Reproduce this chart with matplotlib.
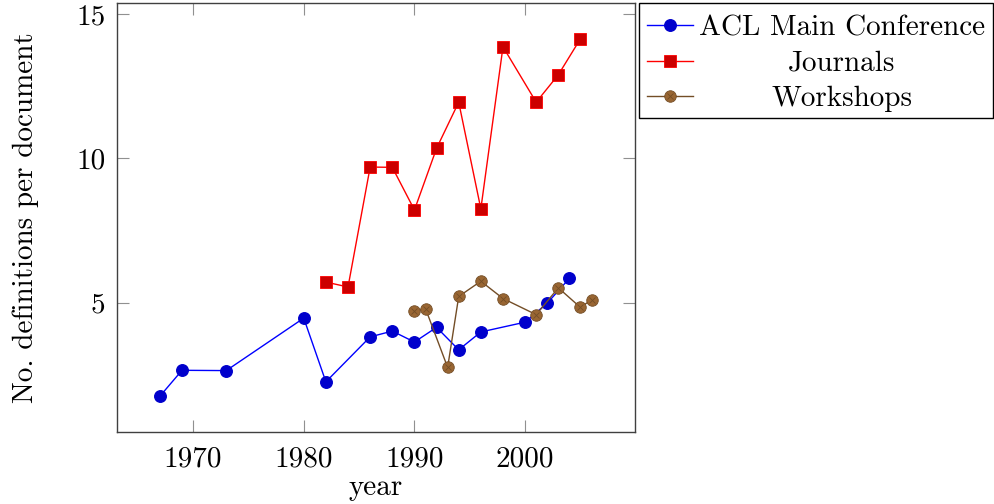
import matplotlib
matplotlib.use('Agg')
import matplotlib.pyplot as plt
from matplotlib.lines import Line2D
from matplotlib.patches import Rectangle

plt.rcParams['font.family'] = ['cmr10', 'DejaVu Serif']
plt.rcParams['axes.formatter.use_mathtext'] = True
plt.rcParams['mathtext.fontset'] = 'cm'

# ---- data ----
acl_years = [1967, 1969, 1973, 1980, 1982, 1986, 1988, 1990, 1992, 1994, 1996, 2000, 2002, 2004]
acl_values = [1.75, 2.65, 2.64, 4.46, 2.25, 3.81, 4.01, 3.63, 4.14, 3.36, 3.98, 4.32, 4.98, 5.84]
journal_years = [1982, 1984, 1986, 1988, 1990, 1992, 1994, 1996, 1998, 2001, 2003, 2005]
journal_values = [5.71, 5.54, 9.70, 9.69, 8.21, 10.35, 11.95, 8.25, 13.87, 11.95, 12.90, 14.15]
workshop_years = [1990, 1991, 1993, 1994, 1996, 1998, 2001, 2003, 2005, 2006]
workshop_values = [4.69, 4.79, 2.75, 5.21, 5.74, 5.14, 4.58, 5.51, 4.83, 5.10]
series_labels = ['ACL Main Conference', 'Journals', 'Workshops']
x_ticks = [1970, 1980, 1990, 2000]
y_ticks = [5, 10, 15]
x_label = 'year'
y_label = 'No. definitions per document'

# ---- styles ----
blue_line, blue_fill = '#0000ff', '#0000cc'
red_line, red_fill = '#ff0000', '#cc0000'
brown_line, brown_fill = '#734d26', '#996633'
FS = 21

W, H = 994, 504
fig = plt.figure(figsize=(W / 100, H / 100), dpi=100)
ax = fig.add_axes([116.7 / W, 1 - 432 / H, (634.7 - 116.7) / W, (432 - 3) / H])

ax.plot(acl_years, acl_values, color=blue_line, lw=1.0, marker='o', ms=8.3,
        mfc=blue_fill, mec=blue_fill, zorder=3)
ax.plot(journal_years, journal_values, color=red_line, lw=1.0, marker='s', ms=8.3,
        mfc=red_fill, mec=red_line, mew=0.6, zorder=3)
ax.plot(workshop_years, workshop_values, color=brown_line, lw=1.0, marker='o', ms=8.3,
        mfc=brown_fill, mec=brown_line, mew=0.6, zorder=3)
ax.plot(workshop_years, workshop_values, ls='none', marker='x', ms=5,
        mec=brown_line, mew=0.6, zorder=4)

ax.margins(x=0.1, y=0.1)
ax.set_xticks(x_ticks)
ax.set_yticks(y_ticks)
ax.set_xticklabels([str(t) for t in x_ticks])
ax.set_yticklabels([str(t) for t in y_ticks])
ax.tick_params(direction='in', length=8.5, width=0.8, color='#909090',
               top=True, right=True, labelsize=FS)
ax.tick_params(axis='x', pad=10)
ax.tick_params(axis='y', pad=8)
for s in ax.spines.values():
    s.set_color('#404040')
    s.set_linewidth(1.0)

ax.set_xlabel(x_label, fontsize=FS, labelpad=2)
ax.set_ylabel(y_label, fontsize=FS, labelpad=27)

# ---- legend (centered text, drawn manually) ----
def fx(px):
    return px / W

def fy(py):
    return 1 - py / H

fig.add_artist(Rectangle((fx(639.3), fy(118)), fx(993) - fx(639.3), (118 - 2.7) / H,
                         transform=fig.transFigure, facecolor='white',
                         edgecolor='black', lw=1.0, zorder=5))
rows = [25, 60.7, 95.7]
styles = [
    dict(color=blue_line, marker='o', mfc=blue_fill, mec=blue_fill),
    dict(color=red_line, marker='s', mfc=red_fill, mec=red_line, mew=0.6),
    dict(color=brown_line, marker='o', mfc=brown_fill, mec=brown_line, mew=0.6),
]
for ry, st, lab in zip(rows, styles, series_labels):
    fig.add_artist(Line2D([fx(647), fx(670), fx(693)], [fy(ry)] * 3, lw=1.0, ms=8.3,
                          markevery=[1], transform=fig.transFigure, zorder=6, **st))
    fig.text(fx(842), fy(ry), lab, fontsize=FS, ha='center', va='center_baseline', zorder=6)
fig.add_artist(Line2D([fx(670)], [fy(rows[2])], ls='none', marker='x', ms=5,
                      mec=brown_line, mew=0.6, transform=fig.transFigure, zorder=7))

fig.savefig('out.png', dpi=100)
